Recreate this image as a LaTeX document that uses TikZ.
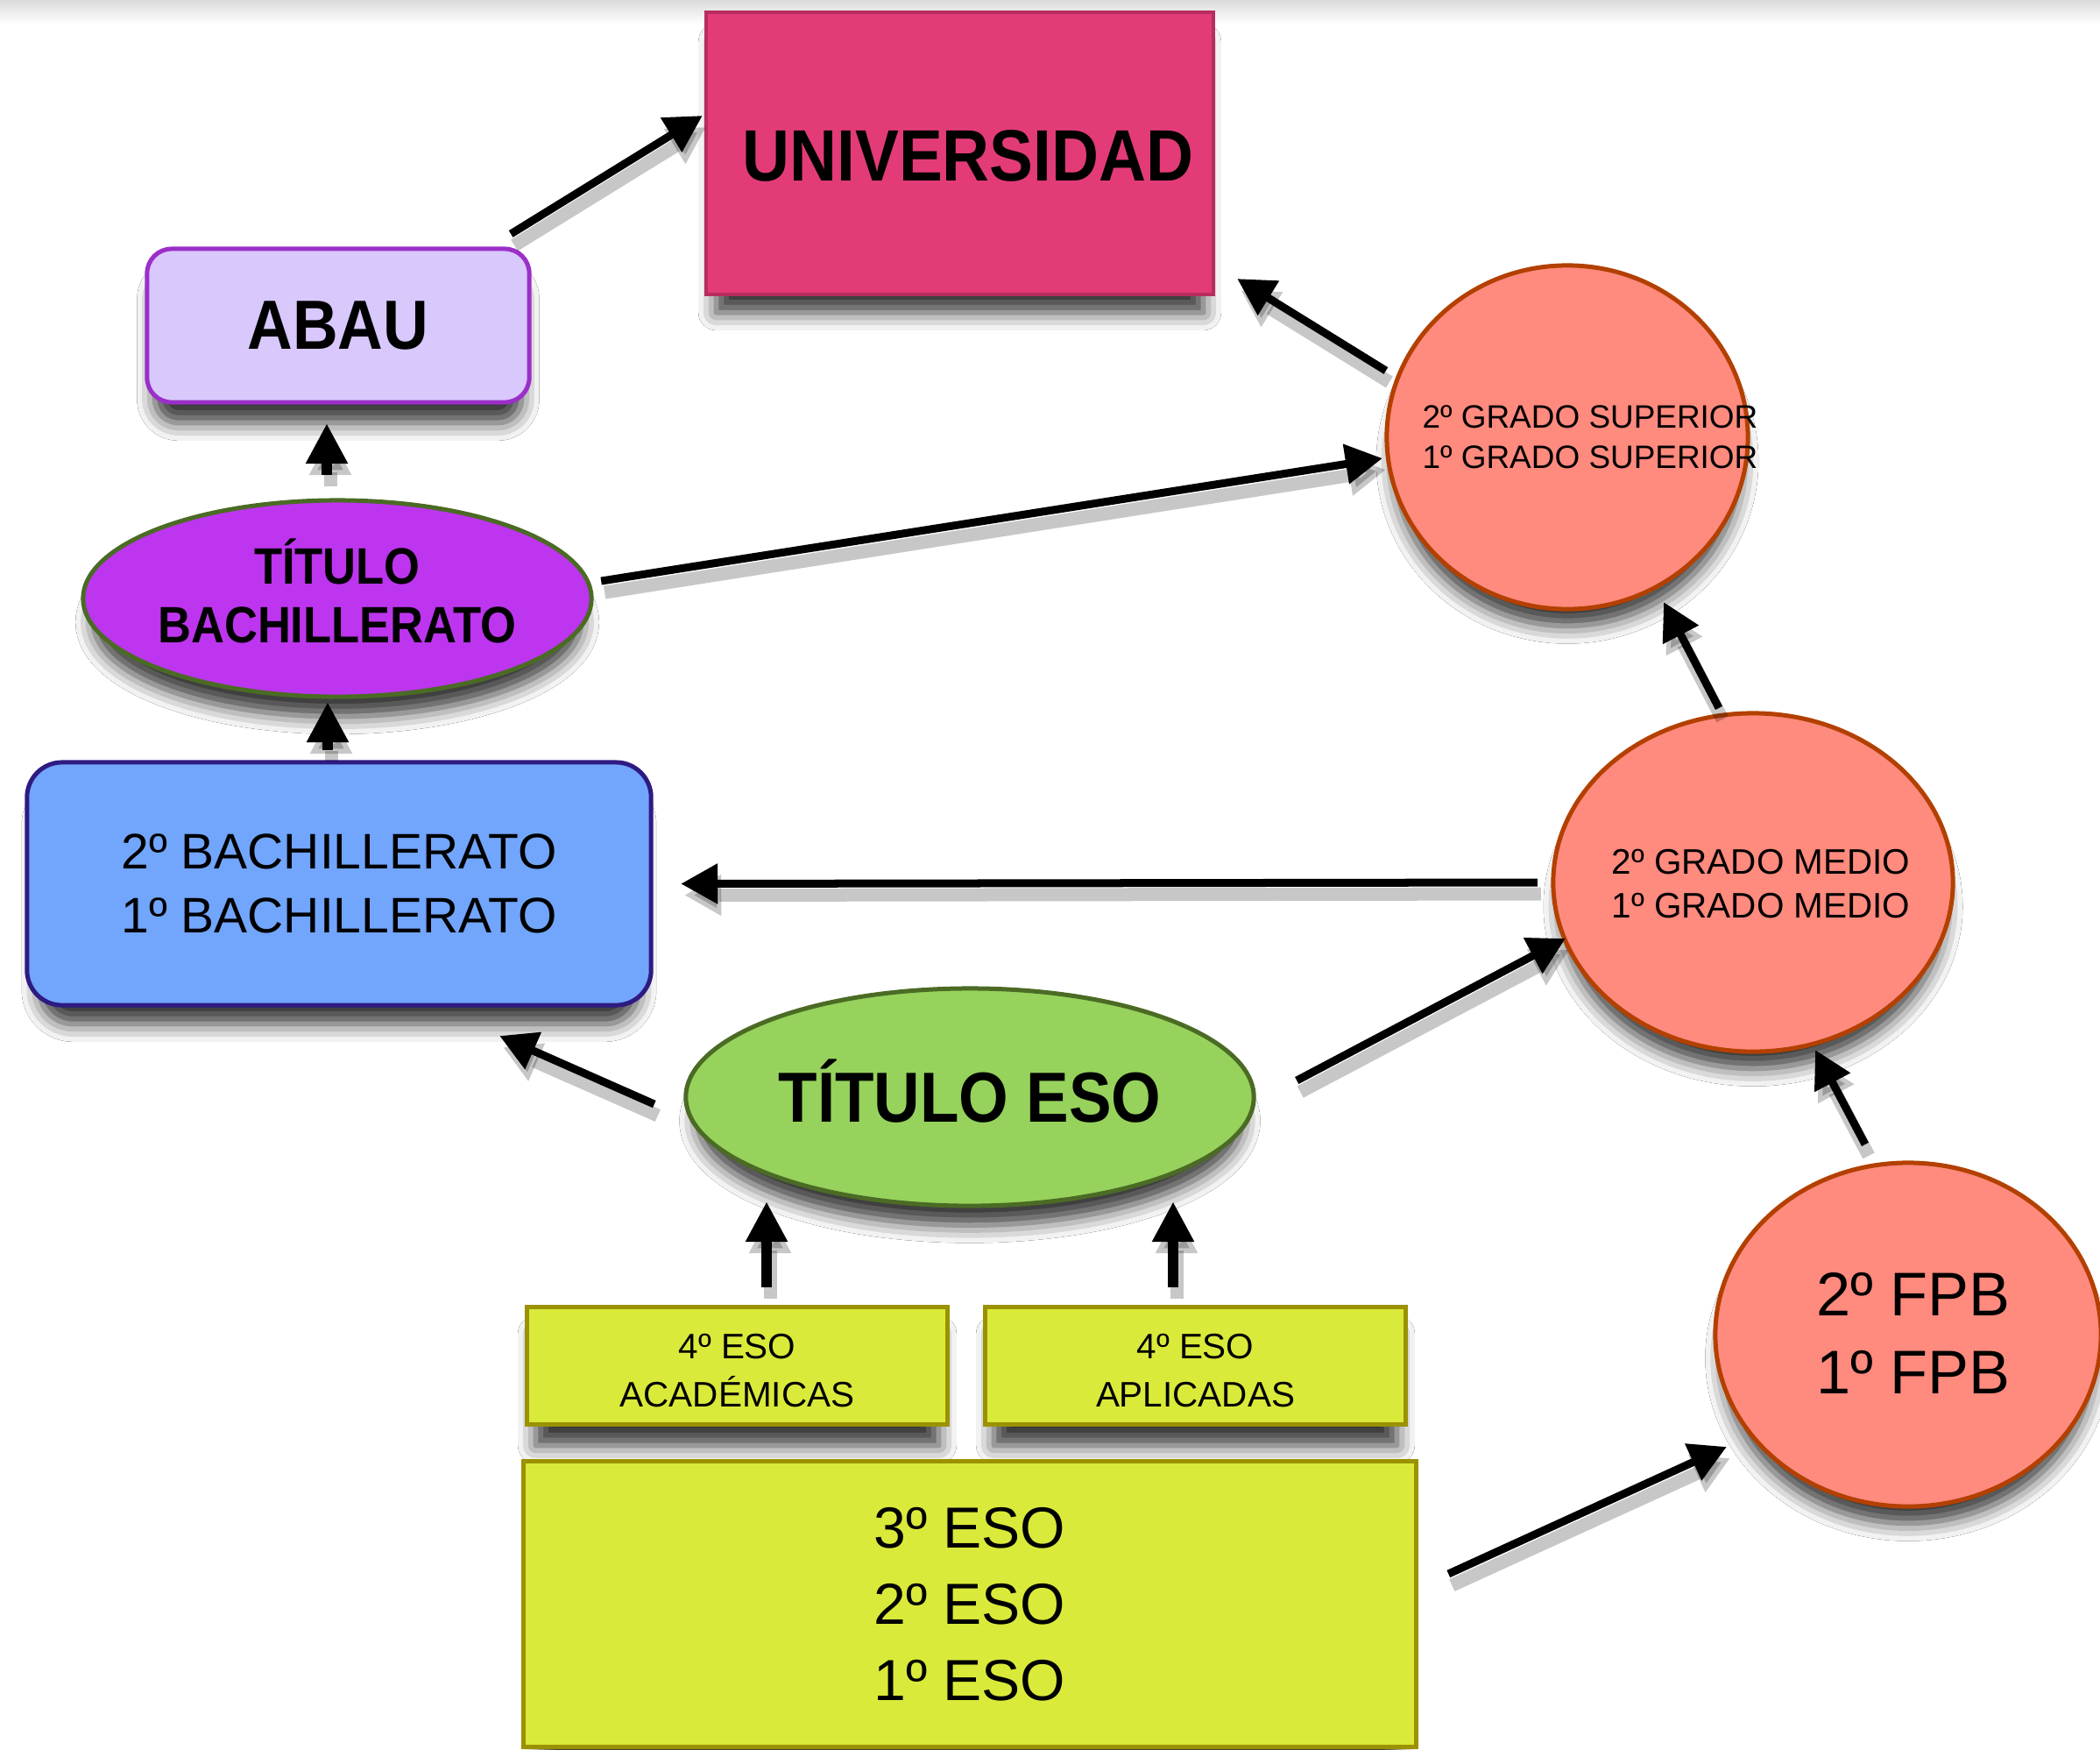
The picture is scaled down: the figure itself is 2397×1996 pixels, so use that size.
\documentclass[tikz,border=0pt]{standalone}
\usepackage{fontspec}
\setmainfont{Liberation Sans}
\newfontfamily\condsans[FakeStretch=0.9]{Liberation Sans}
\usetikzlibrary{shapes.geometric,arrows.meta,shadows.blur}
\definecolor{univfill}{HTML}{E33B78}
\definecolor{univline}{HTML}{B82C5F}
\definecolor{abaufill}{HTML}{D8C8FC}
\definecolor{abauline}{HTML}{9B2FC8}
\definecolor{tbachfill}{HTML}{BD35EE}
\definecolor{greenline}{HTML}{4B6B25}
\definecolor{bachfill}{HTML}{72A5FC}
\definecolor{bachline}{HTML}{2E1B82}
\definecolor{tesofill}{HTML}{96D25C}
\definecolor{yelfill}{HTML}{DAEA3A}
\definecolor{yelline}{HTML}{9A9200}
\definecolor{salfill}{HTML}{FF8A7E}
\definecolor{salline}{HTML}{B34000}
\begin{document}
\begin{tikzpicture}[x=0.01cm,y=-0.01cm,
  shp/.style={draw, line width=0.05cm, inner sep=0pt, outer sep=0pt,
    blur shadow={shadow xshift=0pt, shadow yshift=-8pt, shadow blur radius=6pt,
      shadow opacity=80, shadow scale=0.96}},
  oval/.style={shp, ellipse},
  txt/.style={inner sep=0pt, align=center, text=black},
  arrshadow/.style={preaction={draw=black, opacity=0.22, line width=0.15cm,
    transform canvas={shift={(0.04cm,-0.13cm)}}}},
  arr/.style={arrshadow, draw=black, line width=0.09cm, -{Triangle[length=0.42cm,width=0.44cm]}},
  arrv/.style={arrshadow, draw=black, line width=0.12cm, -{Triangle[length=0.46cm,width=0.45cm]}}
]
\useasboundingbox (0,0) rectangle (2397,1996);
\fill[white] (0,0) rectangle (2397,1996);
\shade[top color=black!14, bottom color=white] (0,0) rectangle (2397,28);

% nodes
\node[shp, rectangle, draw=univline, fill=univfill, line width=0.04cm,
  minimum width=5.79cm, minimum height=3.22cm] (univ) at (1095.5,175) {};
\node[txt, font=\condsans\bfseries\fontsize{23.6pt}{27pt}\selectfont] (univtxt) at (1105,178) {UNIVERSIDAD};

\node[shp, rectangle, rounded corners=0.28cm, draw=abauline, fill=abaufill,
  minimum width=4.36cm, minimum height=1.75cm,
  font=\condsans\bfseries\fontsize{22.6pt}{25pt}\selectfont] (abau) at (386,371.5) {ABAU};

\node[oval, draw=greenline, fill=tbachfill, minimum width=5.8cm, minimum height=2.24cm] (tbach) at (385,683) {};
\node[txt, font=\condsans\bfseries\fontsize{16.6pt}{19pt}\selectfont] (tbachtxt) at (385,674) {TÍTULO\\BACHILLERATO};

\node[shp, rectangle, rounded corners=0.4cm, draw=bachline, fill=bachfill,
  minimum width=7.12cm, minimum height=2.77cm, align=center,
  font=\fontsize{16.2pt}{20.8pt}\selectfont] (bach) at (387,1008.5) {2º BACHILLERATO\\1º BACHILLERATO};

\node[oval, draw=greenline, fill=tesofill, minimum width=6.48cm, minimum height=2.48cm] (teso) at (1107,1252) {};
\node[txt, font=\condsans\bfseries\fontsize{23pt}{27pt}\selectfont] (tesotxt) at (1107,1245) {TÍTULO ESO};

\node[shp, rectangle, draw=yelline, fill=yelfill, minimum width=4.79cm, minimum height=1.33cm] (acad) at (841.5,1558.5) {};
\node[txt, font=\fontsize{11.5pt}{15.4pt}\selectfont] (acadtxt) at (841.5,1564) {4º ESO\\ACADÉMICAS};
\node[shp, rectangle, draw=yelline, fill=yelfill, minimum width=4.79cm, minimum height=1.33cm] (apli) at (1364.5,1558.5) {};
\node[txt, font=\fontsize{11.5pt}{15.4pt}\selectfont] (aplitxt) at (1364.5,1564) {4º ESO\\APLICADAS};

\node[shp, rectangle, draw=yelline, fill=yelfill, minimum width=10.18cm, minimum height=3.25cm,
  align=center, font=\fontsize{18.8pt}{24.7pt}\selectfont] (eso) at (1107,1830.5) {3º ESO\\2º ESO\\1º ESO};

\node[oval, draw=salline, fill=salfill, minimum width=4.12cm, minimum height=3.92cm] (gsup) at (1789,499) {};
\node[txt, font=\fontsize{10.5pt}{13.1pt}\selectfont] (gsuptxt) at (1815,499) {2º GRADO SUPERIOR\\1º GRADO SUPERIOR};

\node[oval, draw=salline, fill=salfill, minimum width=4.56cm, minimum height=3.86cm] (gmed) at (2001,1007) {};
\node[txt, font=\fontsize{11.5pt}{14.2pt}\selectfont] (gmedtxt) at (2010,1009) {2º GRADO MEDIO\\1º GRADO MEDIO};

\node[oval, draw=salline, fill=salfill, minimum width=4.40cm, minimum height=3.92cm] (fpb) at (2178,1523) {};
\node[txt, font=\fontsize{20pt}{25.3pt}\selectfont] (fpbtxt) at (2184,1521) {2º FPB\\1º FPB};

% connectors
\draw[arr] ([shift={(-21,-17)}]abau.north east) -- ([shift={(-4,-43)}]univ.west);
\draw[arr] ([shift={(-1,-76)}]gsup.west) -- ([shift={(27,-18)}]univ.south east);
\draw[arrv] ([shift={(-12,-29)}]tbach.north) -- ([shift={(-13,24)}]abau.south);
\draw[arr] ([shift={(11,-20)}]tbach.east) -- ([shift={(-5,24)}]gsup.west);
\draw[arrv] ([shift={(-13,-14)}]bach.north) -- ([shift={(-11,6)}]tbach.south);
\draw[arr] ([shift={(-18,0)}]gmed.west) -- ([shift={(34,0)}]bach.east);
\draw[arr] ([shift={(-39,-6)}]gmed.north) -- ([shift={(110,-8)}]gsup.south);
\draw[arr] ([shift={(-36,8)}]teso.west) -- ([shift={(-173,35)}]bach.south east);
\draw[arr] ([shift={(49,-19)}]teso.east) -- ([shift={(14,64)}]gmed.west);
\draw[arrv] ([shift={(33.5,-23)}]acad.north) -- ([shift={(-232,-5)}]teso.south);
\draw[arrv] ([shift={(-25.5,-23)}]apli.north) -- ([shift={(232,-5)}]teso.south);
\draw[arr] ([shift={(-49,-21)}]fpb.north) -- ([shift={(71,-2)}]gmed.south);
\draw[arr] ([shift={(37,-34.5)}]eso.east) -- ([shift={(13,128)}]fpb.west);
\end{tikzpicture}
\end{document}
